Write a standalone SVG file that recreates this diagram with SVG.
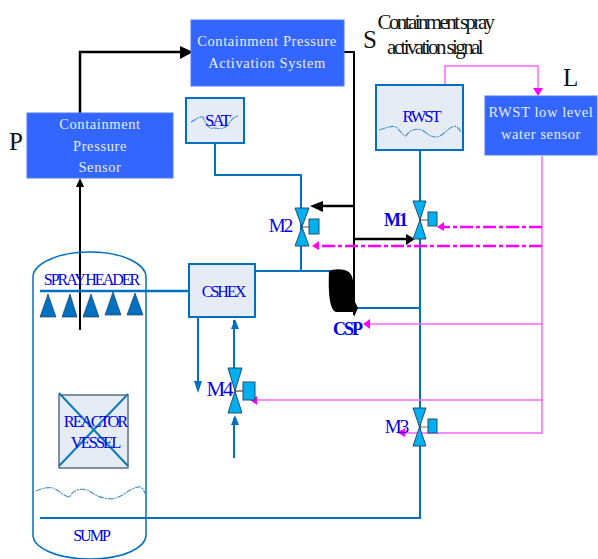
<svg xmlns="http://www.w3.org/2000/svg" width="598" height="559" viewBox="0 0 598 559">
<style>
.sys{fill:#3366ff;stroke:#4d7aff;stroke-width:1}
.sys-t{font-family:"Liberation Serif",serif;font-size:14.500px;fill:#e6ecfa;text-anchor:middle;letter-spacing:.6px}
.eq{fill:#e6ecf6;stroke:#0070c0;stroke-width:2}
.lab{font-family:"Liberation Serif",serif;fill:#0000e6;text-anchor:middle;letter-spacing:-2px}
.big{font-family:"Liberation Serif",serif;fill:#111;font-size:25px}
.sig{font-family:"Liberation Serif",serif;fill:#111;font-size:21px;text-anchor:middle;letter-spacing:-2.600px}
.pipe{fill:none;stroke:#0070c0;stroke-width:2}
.pipe3{fill:none;stroke:#0070c0;stroke-width:2.5}
.blk{fill:none;stroke:#000;stroke-width:2}
.blk3{fill:none;stroke:#000;stroke-width:2.5}
.mag{fill:none;stroke:#ff66ff;stroke-width:1.5}
.magd{fill:none;stroke:#ff00ff;stroke-width:2.5;stroke-dasharray:13 3 4 3}
.vt{fill:#00b0f0;stroke:#264f6b;stroke-width:1}
.wave{fill:none;stroke:#4a94cc;stroke-width:1.2;stroke-dasharray:6 1 2 1}
.noz{fill:#0070c0;stroke:#1f3f5f;stroke-width:.7}
</style>
<g id="connectors">
<path class="blk3" d="M80 113V52H183"/><path d="M180 46L193 52L180 59Z" fill="#000"/>
<path class="blk" d="M80 330V186"/><path d="M76 187L80 178L84 187Z" fill="#000"/>
<path class="blk" d="M344 52H354V315"/>
<path class="blk3" d="M354 206H320"/><path d="M323 201L310 206L323 212Z" fill="#000"/>
<path class="blk3" d="M354 239H408"/><path d="M406 234L415 239L406 245Z" fill="#000"/>
<path class="pipe" d="M215 144V175H301V270"/>
<path class="pipe" d="M420 150V518H40"/>
<path class="pipe" d="M354 308H420"/>
<path class="pipe3" d="M40 291H189"/>
<path class="pipe" d="M255 271H330"/>
<path class="pipe" d="M198 318V385"/><path d="M194 381L198 393L202 381Z" fill="#0070c0"/>
<path class="pipe" d="M234 368V320"/><path d="M231 329L235 319L239 329Z" fill="#0070c0"/>
<path class="pipe" d="M234 458V418"/><path d="M231 425L235 415L239 425Z" fill="#0070c0"/>
<path class="mag" d="M445 105V66H538V90"/><path d="M533 88L538 96L543 88Z" fill="#ff00ff"/>
<path class="mag" d="M542 156V433H402"/>
<path class="mag" d="M542 324H366"/><path d="M370 319L363 324L370 329Z" fill="#ff00ff"/>
<path class="mag" d="M542 400H254"/><path d="M257 396L250 400L257 405Z" fill="#ff00ff"/>
<path d="M405 428L398 433L405 437Z" fill="#ff00ff"/>
<path class="magd" d="M542 227H440"/><path d="M444 222L437 227L444 231Z" fill="#ff00ff"/>
<path class="magd" d="M542 246H315"/><path d="M319 241L312 246L319 250Z" fill="#ff00ff"/>
</g>
<g id="containment">
<path d="M33 277C33 265 55 252 90 252C125 252 146 265 146 277V535C146 547 125 559 90 559C55 559 33 547 33 535Z" fill="none" stroke="#0070c0" stroke-width="1.5"/>
<path class="wave" d="M36 491C42 488 48 487 53 488C59 490 64 497 70 497C72 490 80 488 88 490C92 493 98 497 104 498C112 500 118 498 124 494C130 490 136 486 141 487C144 490 145 493 146 496"/>
<text class="lab" x="91" y="285" font-size="16" letter-spacing="-2.200">SPRAY HEADER</text>
<text class="lab" x="91" y="541" font-size="16">SUMP</text>
</g>
<g id="nozzles">
<path class="noz" d="M48 294L56 317H40Z"/><path class="noz" d="M70 294L77 317H62Z"/><path class="noz" d="M91 294L99 317H83Z"/><path class="noz" d="M113 292L121 315H105Z"/><path class="noz" d="M135 293L143 315H127Z"/>
</g>
<g id="reactor">
<rect x="59" y="395" width="69" height="73" fill="#e6ecf6" stroke="#5f6f7f" stroke-width="1.5"/>
<path d="M59 393L128 466M128 394L59 466" stroke="#0f7ab5" stroke-width="2" fill="none"/>
<text class="lab" x="95" y="427" font-size="16.500">REACTOR</text>
<text class="lab" x="95" y="448" font-size="16.500">VESSEL</text>
</g>
<g id="pressure-sensor">
<rect class="sys" x="27" y="113" width="146" height="65"/>
<text class="sys-t" x="100" y="129">Containment</text>
<text class="sys-t" x="100" y="151">Pressure</text>
<text class="sys-t" x="100" y="172">Sensor</text>
<text class="big" x="9" y="150">P</text>
</g>
<g id="activation-system">
<rect class="sys" x="191" y="20" width="153" height="66"/>
<text class="sys-t" x="267" y="46">Containment Pressure</text>
<text class="sys-t" x="267" y="68">Activation System</text>
<text class="big" x="363" y="48">S</text>
<text class="sig" x="435" y="29">Containment spray</text>
<text class="sig" x="434" y="54">activation signal</text>
</g>
<g id="sat">
<rect class="eq" x="186" y="98" width="58" height="45"/>
<path class="wave" d="M191 122C196 120 199 116 203 117C206 125 210 130 214 128C218 128 222 130 227 126C231 120 234 116 239 116"/>
<text class="lab" x="217" y="126" font-size="17">SAT</text>
</g>
<g id="rwst">
<rect class="eq" x="376" y="85" width="87" height="65"/>
<path class="wave" d="M379 130C386 128 392 125 396 127C400 130 403 136 406 136C409 130 416 128 422 130C427 133 430 137 436 137C442 137 446 130 452 127C456 125 459 128 461 132"/>
<text class="lab" x="421" y="122" font-size="16.500">RWST</text>
</g>
<g id="low-level-sensor">
<rect class="sys" x="485" y="96" width="112" height="59"/>
<text class="sys-t" x="541" y="117">RWST low level</text>
<text class="sys-t" x="541" y="139">water sensor</text>
<text class="big" x="563" y="86">L</text>
</g>
<g id="cshex">
<rect class="eq" x="189" y="264" width="66" height="53"/>
<text class="lab" x="223" y="297" font-size="16">CSHEX</text>
</g>
<g id="csp">
<path d="M329 271C333 269 345 268 350 273C354 277 354 290 354 300C354 308 356 312 352 312H336C330 310 328 295 329 271Z" fill="#000"/>
<path d="M354 300L358 308L354 317Z" fill="#000"/>
<text class="lab" x="347" y="335" font-size="18" font-weight="bold">CSP</text>
</g>
<g id="valve-m1">
<path class="vt" d="M413 201H426L420 220Z M420 220L426 239H413Z"/>
<path d="M420 220H428" stroke="#555" stroke-width="1"/>
<rect x="428" y="212" width="9" height="14" fill="#00b0f0" stroke="#264f6b"/>
<text class="lab" x="395" y="226" font-size="18" font-weight="bold" letter-spacing="-4">M1</text>
</g>
<g id="valve-m2">
<path class="vt" d="M295 208H309L302 227Z M302 227L309 246H295Z"/>
<path d="M302 227H309" stroke="#555" stroke-width="1"/>
<rect x="309" y="219" width="10" height="15" fill="#00b0f0" stroke="#264f6b"/>
<text class="lab" x="280" y="232" font-size="19" letter-spacing="-3">M2</text>
</g>
<g id="valve-m3">
<path class="vt" d="M413 408H426L419.500 427Z M419.500 427L426 446H413Z"/>
<path d="M420 427H428" stroke="#777" stroke-width="1"/>
<rect x="428" y="419" width="9" height="14" fill="#00b0f0" stroke="#264f6b"/>
<text class="lab" x="396" y="433" font-size="19" letter-spacing="-3">M3</text>
</g>
<g id="valve-m4">
<path class="vt" d="M228 368H242L235 391Z M235 391L242 413H228Z"/>
<path d="M235 391H243" stroke="#222" stroke-width="1"/>
<rect x="243" y="382" width="12" height="18" fill="#00b0f0" stroke="#264f6b"/>
<text class="lab" x="219" y="396" font-size="21" letter-spacing="-3.500">M4</text>
</g>
</svg>
